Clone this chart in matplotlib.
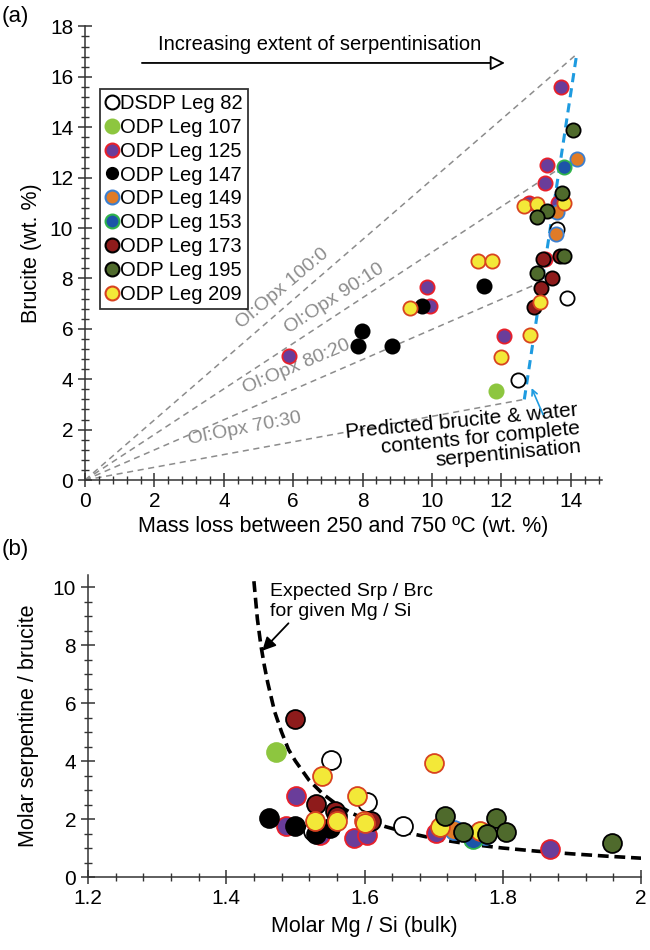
import matplotlib
matplotlib.use("Agg")
import matplotlib.pyplot as plt
from matplotlib.ticker import MultipleLocator
import numpy as np

plt.rcParams['font.family'] = ['Liberation Sans', 'DejaVu Sans']

# ---- legend / series styles
legs = ["DSDP Leg 82", "ODP Leg 107", "ODP Leg 125", "ODP Leg 147", "ODP Leg 149",
        "ODP Leg 153", "ODP Leg 173", "ODP Leg 195", "ODP Leg 209"]
faces = ["white", "#8dc63f", "#6a3d9a", "black", "#e07b27",
         "#1c55a8", "#8e1b1b", "#4f6a2c", "#f3e838"]
edges = ["black", "#8dc63f", "#e8202a", "black", "#3b7fd0",
         "#2fb34b", "black", "black", "#d8431f"]

# ---- panel (a): mass loss vs brucite
a_x = {
    "DSDP Leg 82": [13.59, 13.88, 12.47],
    "ODP Leg 107": [11.83],
    "ODP Leg 125": [13.72, 13.30, 13.27, 13.64, 12.80, 13.25, 9.87, 9.94, 12.08, 5.88],
    "ODP Leg 147": [11.51, 9.70, 7.99, 7.88, 8.85],
    "ODP Leg 149": [14.17, 13.59, 13.56],
    "ODP Leg 153": [13.79],
    "ODP Leg 173": [13.19, 13.69, 13.47, 13.14, 12.95],
    "ODP Leg 195": [14.07, 13.76, 13.30, 13.04, 13.79, 13.04],
    "ODP Leg 209": [13.79, 12.66, 13.02, 11.32, 11.73, 13.11, 12.82, 11.99, 9.37],
}
a_y = {
    "DSDP Leg 82": [9.95, 7.24, 3.97],
    "ODP Leg 107": [3.53],
    "ODP Leg 125": [15.6, 12.51, 11.80, 11.0, 11.0, 8.77, 7.67, 6.92, 5.73, 4.92],
    "ODP Leg 147": [7.7, 6.92, 5.93, 5.33, 5.32],
    "ODP Leg 149": [12.74, 10.62, 9.75],
    "ODP Leg 153": [12.43],
    "ODP Leg 173": [8.77, 8.89, 8.03, 7.63, 6.88],
    "ODP Leg 195": [13.9, 11.38, 10.69, 10.45, 8.89, 8.2],
    "ODP Leg 209": [10.98, 10.88, 10.94, 8.69, 8.69, 7.08, 5.75, 4.87, 6.81],
}

# Ol:Opx mixing lines (end points on the complete-serpentinisation line)
mix_labels = ["Ol:Opx 100:0", "Ol:Opx 90:10", "Ol:Opx 80:20", "Ol:Opx 70:30"]
mix_end_x = [14.17, 13.55, 13.05, 12.66]
mix_end_y = [16.9, 12.25, 7.8, 3.2]
mix_lab_x = [5.7, 7.2, 6.1, 4.6]
mix_lab_y = [7.6, 7.2, 4.5, 2.05]
mix_lab_rot = [40, 33, 23, 11]

# predicted complete serpentinisation line
pred_x = [12.66, 14.17]
pred_y = [3.2, 16.9]

# ---- panel (b): Mg/Si vs serpentine/brucite
b_x = {
    "DSDP Leg 82": [1.551, 1.603, 1.655, 1.525],
    "ODP Leg 107": [1.472],
    "ODP Leg 125": [1.501, 1.487, 1.535, 1.585, 1.603, 1.704, 1.76, 1.868],
    "ODP Leg 147": [1.462, 1.499, 1.53, 1.55],
    "ODP Leg 149": [1.729, 1.774, 1.765],
    "ODP Leg 153": [1.757],
    "ODP Leg 173": [1.499, 1.530, 1.557, 1.61, 1.56],
    "ODP Leg 195": [1.716, 1.742, 1.790, 1.777, 1.804, 1.958],
    "ODP Leg 209": [1.539, 1.700, 1.589, 1.528, 1.560, 1.599, 1.709, 1.767, 1.60],
}
b_y = {
    "DSDP Leg 82": [4.03, 2.58, 1.77, 1.6],
    "ODP Leg 107": [4.30],
    "ODP Leg 125": [2.79, 1.77, 1.45, 1.35, 1.45, 1.53, 1.4, 0.95],
    "ODP Leg 147": [2.02, 1.77, 1.5, 1.7],
    "ODP Leg 149": [1.62, 1.45, 1.55],
    "ODP Leg 153": [1.30],
    "ODP Leg 173": [5.44, 2.51, 2.28, 1.94, 2.1],
    "ODP Leg 195": [2.11, 1.56, 2.05, 1.50, 1.56, 1.18],
    "ODP Leg 209": [3.49, 3.92, 2.80, 1.93, 1.93, 1.94, 1.72, 1.59, 1.85],
}

# expected Srp/Brc curve
curve_x = [1.440, 1.445, 1.450, 1.455, 1.46, 1.47, 1.48, 1.49, 1.50, 1.52, 1.54, 1.56,
           1.58, 1.60, 1.63, 1.66, 1.70, 1.75, 1.80, 1.85, 1.90, 1.95, 2.00]
curve_y = [10.2, 8.9, 8.0, 7.3, 6.7, 5.7, 5.0, 4.4, 4.0, 3.33, 2.86, 2.5,
           2.22, 2.0, 1.74, 1.54, 1.33, 1.14, 1.0, 0.89, 0.8, 0.72, 0.65]

draw_order = [0, 1, 2, 3, 4, 5, 6, 8, 7]


def style_axes(ax):
    for s in ["top", "right"]:
        ax.spines[s].set_visible(False)
    for s in ["left", "bottom"]:
        ax.spines[s].set_color("#333333")
        ax.spines[s].set_linewidth(1.1)
    ax.tick_params(which="major", direction="inout", length=10, width=1.1,
                   color="#333333", labelsize=15)
    ax.tick_params(which="minor", direction="inout", length=6, width=1.0,
                   color="#333333")


fig = plt.figure(figsize=(6.5, 9.5), dpi=100)

# ---------------- panel (a)
ax1 = fig.add_axes([0.1308, 0.4947, 0.7954, 0.4775])
style_axes(ax1)
ax1.set_xlim(0, 14.9)
ax1.set_ylim(0, 18)
ax1.set_xticks(np.arange(0, 15, 2))
ax1.set_yticks(np.arange(0, 19, 2))
ax1.xaxis.set_minor_locator(MultipleLocator(0.4))
ax1.yaxis.set_minor_locator(MultipleLocator(0.4))

for i in range(len(mix_labels)):
    ax1.plot([0, mix_end_x[i]], [0, mix_end_y[i]], ls=(0, (4, 3)), color="#8c8c8c", lw=1.1, zorder=1)
    ax1.text(mix_lab_x[i], mix_lab_y[i], mix_labels[i], rotation=mix_lab_rot[i],
             rotation_mode="anchor", ha="center", va="center", fontsize=14, color="#8c8c8c")
ax1.plot(pred_x, pred_y, ls=(0, (3, 2)), color="#1e9be0", lw=2.2, zorder=1)

for i in draw_order:
    ax1.scatter(a_x[legs[i]], a_y[legs[i]], s=105, facecolor=faces[i], edgecolor=edges[i],
                linewidth=1.3, zorder=3, clip_on=False)

ax1.annotate("", xy=(12.1, 16.55), xytext=(1.64, 16.55),
             arrowprops=dict(arrowstyle="-|>", lw=1.3, edgecolor="black", facecolor="white",
                             mutation_scale=22, shrinkA=0, shrinkB=0))
ax1.text(6.75, 17.3, "Increasing extent of serpentinisation", ha="center", va="center", fontsize=14.5)

ax1.text(14.25, 2.05, "Predicted brucite & water\ncontents for complete\nserpentinisation",
         rotation=5.5, rotation_mode="anchor", ha="right", va="center", multialignment="right",
         fontsize=15, linespacing=0.95)
ax1.annotate("", xy=(12.87, 3.65), xytext=(13.2, 2.6),
             arrowprops=dict(arrowstyle="->", lw=1.2, color="#1e9be0", shrinkA=0, shrinkB=0))

handles = []
for i in range(len(legs)):
    ms = 8 if legs[i] == "ODP Leg 147" else 10
    h, = ax1.plot([], [], "o", ms=ms, markerfacecolor=faces[i], markeredgecolor=edges[i],
                  markeredgewidth=1.5, label=legs[i])
    handles.append(h)
leg = ax1.legend(handles=handles, loc="upper left", bbox_to_anchor=(0.029, 0.862), fontsize=14.5,
                 frameon=True, fancybox=False, edgecolor="black", handlelength=0.7,
                 handletextpad=0.05, labelspacing=0.24, borderpad=0.25, borderaxespad=0)
leg.get_frame().set_linewidth(1.3)

ax1.set_xlabel("Mass loss between 250 and 750 ºC (wt. %)", fontsize=15.5, labelpad=4)
ax1.set_ylabel("Brucite (wt. %)", fontsize=15.5, labelpad=6)

# ---------------- panel (b)
ax2 = fig.add_axes([0.1354, 0.0768, 0.8508, 0.3175])
style_axes(ax2)
ax2.set_xlim(1.2, 2.0)
ax2.set_ylim(0, 10.4)
ax2.set_xticks([1.2, 1.4, 1.6, 1.8, 2.0])
ax2.set_xticklabels(["1.2", "1.4", "1.6", "1.8", "2"])
ax2.set_yticks(np.arange(0, 11, 2))
ax2.xaxis.set_minor_locator(MultipleLocator(0.04))
ax2.yaxis.set_minor_locator(MultipleLocator(0.5))

ax2.plot(curve_x, curve_y, ls=(0, (3, 1.6)), color="black", lw=2.6, zorder=1)

for i in draw_order:
    ax2.scatter(b_x[legs[i]], b_y[legs[i]], s=185, facecolor=faces[i], edgecolor=edges[i],
                linewidth=1.3, zorder=3, clip_on=False)

ax2.text(1.463, 9.5, "Expected Srp / Brc\nfor given Mg / Si", ha="left", va="center",
         fontsize=14, linespacing=1.2)
ax2.annotate("", xy=(1.452, 7.8), xytext=(1.49, 8.75),
             arrowprops=dict(arrowstyle="-|>", lw=1.3, color="black", mutation_scale=20,
                             shrinkA=0, shrinkB=0))

ax2.set_xlabel("Molar Mg / Si (bulk)", fontsize=15.5, labelpad=6)
ax2.set_ylabel("Molar serpentine / brucite", fontsize=15.5, labelpad=10)

fig.text(0.003, 0.983, "(a)", fontsize=16, ha="left", va="center")
fig.text(0.003, 0.422, "(b)", fontsize=16, ha="left", va="center")

fig.savefig("out.png", dpi=100)
